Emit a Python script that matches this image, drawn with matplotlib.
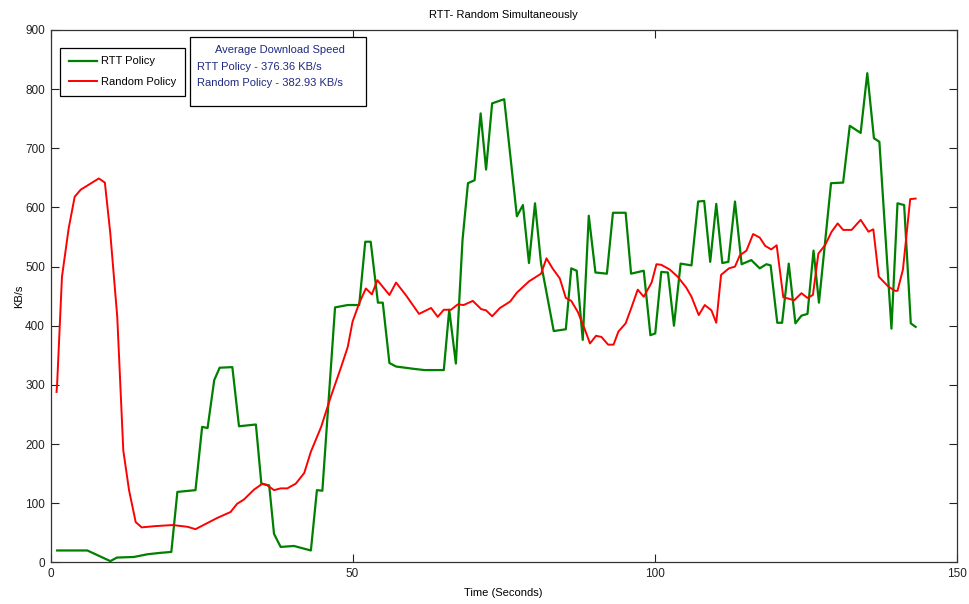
import matplotlib
matplotlib.use("Agg")
import matplotlib.pyplot as plt
from matplotlib.patches import Rectangle

plt.rcParams['font.family'] = ['Liberation Sans', 'DejaVu Sans']

# ---- data ----
rtt_t = [1.1, 6.1, 9.9, 11.0, 13.8, 16.0, 18.2, 20.0, 21.0, 24.0, 25.1, 26.0, 27.1, 28.0, 30.1,
         31.2, 34.0, 34.9, 36.2, 37.0, 38.1, 40.3, 43.1, 44.1, 45.0, 47.1, 49.2, 51.1, 52.1, 53.0,
         54.2, 55.0, 56.1, 57.2, 60.2, 61.9, 65.1, 66.0, 67.1, 68.2, 69.1, 70.2, 71.2, 72.1, 73.1,
         75.1, 77.2, 78.2, 79.2, 80.2, 81.2, 83.3, 85.3, 86.2, 87.1, 88.1, 89.1, 90.2, 92.1, 93.1,
         95.2, 96.1, 98.2, 99.3, 100.1, 101.1, 102.2, 103.2, 104.3, 106.1, 107.2, 108.2, 109.2, 110.2,
         111.2, 112.2, 113.3, 114.4, 116.0, 117.4, 118.5, 119.2, 120.3, 121.1, 122.2, 123.3, 124.3,
         125.3, 126.3, 127.2, 129.2, 131.2, 132.3, 134.1, 135.2, 136.3, 137.2, 139.2, 140.2, 141.3,
         142.4, 143.2]
rtt_v = [20, 20, 2, 8, 9, 13.5, 16, 17.5, 119, 122, 229, 227, 308, 329, 330,
         230, 233, 133, 130, 48, 26, 27.6, 20, 122, 121, 431, 435, 435, 542, 542,
         439, 439, 337, 331, 327, 325, 325, 427, 336, 545, 641, 646, 759, 664, 776,
         783, 585, 604, 506, 607, 505, 391, 394, 497, 493, 376, 586, 490, 488, 591,
         591, 488, 493, 384, 387, 491, 490, 400, 505, 502, 610, 611, 508, 606,
         506, 508, 610, 504, 511, 497, 504, 502, 405, 405, 505, 404, 417,
         420, 527, 439, 641, 642, 738, 726, 827, 717, 711, 395, 607, 604,
         404, 398]

rnd_t = [1.0, 1.1, 1.9, 3.0, 4.0, 5.0, 8.0, 9.0, 9.9, 11.05, 12.05, 13.0, 14.1, 15.1, 17.1,
         20.2, 22.7, 24.0, 25.7, 27.6, 29.8, 30.9, 32.0, 33.7, 35.1, 35.9, 37.0, 38.1, 39.2, 40.6,
         42.0, 43.1, 44.8, 46.4, 48.1, 49.2, 50.0, 51.1, 52.2, 53.2, 54.1, 56.1, 57.2, 58.8, 61.0,
         63.0, 64.1, 65.1, 66.3, 67.4, 68.4, 69.9, 71.3, 72.1, 73.1, 74.4, 76.1, 77.2, 79.2, 81.2,
         82.1, 83.1, 84.3, 85.3, 86.2, 87.3, 88.4, 89.3, 90.3, 91.2, 92.3, 93.2, 94.0, 95.2, 96.1,
         97.2, 98.2, 99.5, 100.3, 101.1, 102.5, 103.8, 105.2, 106.1, 107.3, 108.3, 109.4, 110.2, 111.0,
         112.3, 113.3, 114.1, 115.2, 116.3, 117.4, 118.3, 119.3, 120.2, 121.3, 122.1, 123.1, 124.3,
         125.3, 126.2, 127.1, 128.2, 129.3, 130.3, 131.2, 132.6, 134.1, 135.4, 136.2, 137.1, 138.7,
         139.8, 140.2, 141.1, 142.3, 143.2]
rnd_v = [288, 302, 483, 564, 618, 630, 649, 642, 556, 415, 189, 122, 68, 59, 61,
         63, 60, 56, 65, 75, 85, 99, 106, 123, 133, 130, 122, 125, 125, 133,
         151, 187, 229, 280, 330, 364, 407, 438, 463, 453, 477, 452, 473, 452, 420,
         430, 415, 427, 427, 436, 435, 442, 428, 426, 416, 430, 441, 456, 475, 488,
         514, 497, 480, 447, 442, 423, 395, 370, 383, 381, 368, 368, 390, 404, 429,
         461, 449, 473, 504, 503, 495, 483, 465, 449, 418, 435, 426, 405, 486,
         497, 500, 519, 527, 555, 549, 535, 529, 536, 448, 446, 443, 455,
         447, 452, 522, 536, 559, 573, 562, 562, 579, 559, 563, 483, 466,
         459, 459, 495, 614, 615]

series_labels = ["RTT Policy", "Random Policy"]
title = "RTT- Random Simultaneously"
xlabel = "Time (Seconds)"
ylabel = "KB/s"
info_title = "Average Download Speed"
info_lines = ["RTT Policy - 376.36 KB/s", "Random Policy - 382.93 KB/s"]
x_ticks = [0, 50, 100, 150]
y_ticks = [0, 100, 200, 300, 400, 500, 600, 700, 800, 900]

FS = 8

# ---- figure ----
fig = plt.figure(figsize=(9.69, 6.04), dpi=100)
L, R, B, T = 50.5 / 969, 956.7 / 969, (604 - 562.3) / 604, (604 - 30) / 604
ax = fig.add_axes([L, B, R - L, T - B])

ax.plot(rtt_t, rtt_v, color='#008000', lw=1.6, label=series_labels[0], solid_joinstyle='round')
ax.plot(rnd_t, rnd_v, color='#ff0000', lw=1.4, label=series_labels[1], solid_joinstyle='round')

ax.set_xlim(0, 150)
ax.set_ylim(0, 900)
ax.set_xticks(x_ticks)
ax.set_yticks(y_ticks)
ax.tick_params(direction='in', length=6, width=0.8, top=True, right=True,
               labelsize=FS + 0.5, colors='#222222', pad=4)
for s in ax.spines.values():
    s.set_color('#333333')
    s.set_linewidth(0.9)

ax.set_title(title, fontsize=FS, pad=9)
ax.set_xlabel(xlabel, fontsize=FS, labelpad=6)
ax.set_ylabel(ylabel, fontsize=FS, labelpad=1)

leg = ax.legend(loc='upper left', bbox_to_anchor=(0.0105, 0.967), fontsize=FS,
                fancybox=False, framealpha=1, edgecolor='black', handlelength=2.5,
                handletextpad=0.4, borderpad=0.8, labelspacing=0.95, borderaxespad=0)
leg.get_frame().set_linewidth(0.9)

# info box
bx0, bx1 = (190 - 50.5) / 906.2, (366 - 50.5) / 906.2
by1, by0 = (562.3 - 37) / 532.3, (562.3 - 106) / 532.3
ax.add_patch(Rectangle((bx0, by0), bx1 - bx0, by1 - by0, transform=ax.transAxes,
                       facecolor='white', edgecolor='black', lw=0.9, zorder=5))
navy = '#1f2a80'
ax.text((280 - 50.5) / 906.2, (562.3 - 50) / 532.3, info_title, transform=ax.transAxes,
        ha='center', va='center', color=navy, fontsize=FS, zorder=6)
for i, line in enumerate(info_lines):
    ax.text((197 - 50.5) / 906.2, (562.3 - (66.7 + 16 * i)) / 532.3, line, transform=ax.transAxes,
            ha='left', va='center', color=navy, fontsize=FS, zorder=6)

fig.savefig("out.png", dpi=100)
